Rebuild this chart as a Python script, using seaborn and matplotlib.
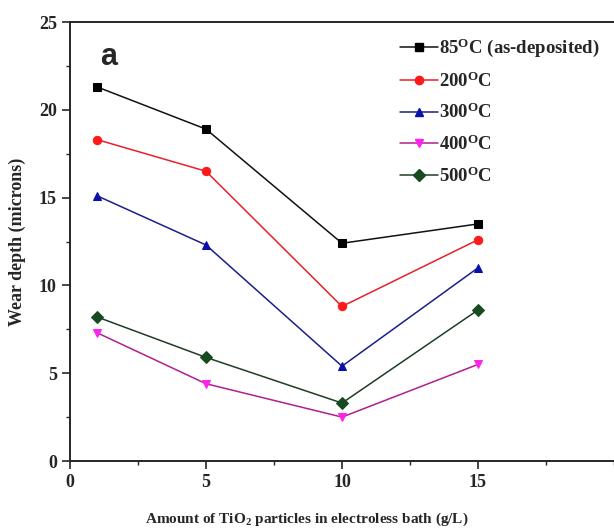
import matplotlib

matplotlib.use("Agg")

import matplotlib.pyplot as plt
import pandas as pd
import seaborn as sns
from matplotlib.ticker import MultipleLocator

# data
tio2 = [1, 5, 10, 15]
series_names = [
    "85$^{\\mathrm{O}}$C (as-deposited)",
    "200$^{\\mathrm{O}}$C",
    "300$^{\\mathrm{O}}$C",
    "400$^{\\mathrm{O}}$C",
    "500$^{\\mathrm{O}}$C",
]
depth_85 = [21.3, 18.9, 12.4, 13.5]
depth_200 = [18.3, 16.5, 8.8, 12.6]
depth_300 = [15.1, 12.3, 5.4, 11.0]
depth_400 = [7.3, 4.4, 2.5, 5.5]
depth_500 = [8.2, 5.9, 3.3, 8.6]

colors = ["#000000", "#ff1a1a", "#0a10a8", "#ff22ee", "#174a1e"]
line_colors = ["#111111", "#e8202a", "#1a1f8a", "#b0208e", "#1e3d24"]
markers = ["s", "o", "^", "v", "D"]

rows = []
for name, vals in zip(series_names, [depth_85, depth_200, depth_300, depth_400, depth_500]):
    for x, y in zip(tio2, vals):
        rows.append({"x": x, "y": y, "series": name})
df = pd.DataFrame(rows)

sns.set_theme(style="ticks")
plt.rcParams["font.family"] = ["Liberation Serif", "DejaVu Serif"]
plt.rcParams["font.weight"] = "bold"
plt.rcParams["mathtext.fontset"] = "custom"
plt.rcParams["mathtext.rm"] = "Liberation Serif:bold"
plt.rcParams["mathtext.it"] = "Liberation Serif:bold"
plt.rcParams["mathtext.bf"] = "Liberation Serif:bold"

fig = plt.figure(figsize=(6.14, 5.3), dpi=100)
ax = fig.add_axes([70 / 614, (530 - 461) / 530, 544 / 614, 439 / 530])

sns.lineplot(
    data=df, x="x", y="y", hue="series", style="series",
    palette=dict(zip(series_names, line_colors)),
    markers=dict(zip(series_names, markers)), dashes=False,
    linewidth=1.1, markersize=6, ax=ax, legend=False,
)
# recolor markers to their brighter fill tones
for line, c in zip(ax.get_lines(), colors):
    line.set_markerfacecolor(c)
    line.set_markeredgecolor(c)

handles = []
for name, lc, mc, m in zip(series_names, line_colors, colors, markers):
    h, = ax.plot([], [], color=lc, marker=m, markerfacecolor=mc, markeredgecolor=mc,
                 markersize=6, linewidth=1.1, label=name)
    handles.append(h)
ax.legend(handles=handles, loc="upper right", frameon=False, fontsize=13.5,
          handlelength=2.0, handletextpad=0.1, labelspacing=0.65,
          bbox_to_anchor=(1.005, 1.005))

ax.set_xlim(0, 20)
ax.set_ylim(0, 25)
ax.xaxis.set_major_locator(MultipleLocator(5))
ax.xaxis.set_minor_locator(MultipleLocator(2.5))
ax.yaxis.set_major_locator(MultipleLocator(5))
ax.yaxis.set_minor_locator(MultipleLocator(2.5))
ax.set_xticks([0, 5, 10, 15])
ax.tick_params(which="major", direction="out", length=6, width=1.2, labelsize=13)
ax.tick_params(which="minor", direction="out", length=3, width=1)
ax.spines["right"].set_visible(False)
for s in ["left", "bottom", "top"]:
    ax.spines[s].set_linewidth(1.4)

ax.set_xlabel("Amount of TiO$_2$ particles in electroless bath (g/L)", fontsize=11,
              fontweight="bold", va="center")
ax.xaxis.set_label_coords(0.436, -0.132)
ax.set_ylabel("Wear depth (microns)", fontsize=13, fontweight="bold", va="center")
ax.yaxis.set_label_coords(-0.096, 0.5)
ax.text(0.055, 0.955, "a", transform=ax.transAxes, fontsize=22, fontweight="bold",
        family="Liberation Sans", va="top", ha="left")

fig.savefig("out.png", dpi=100)
